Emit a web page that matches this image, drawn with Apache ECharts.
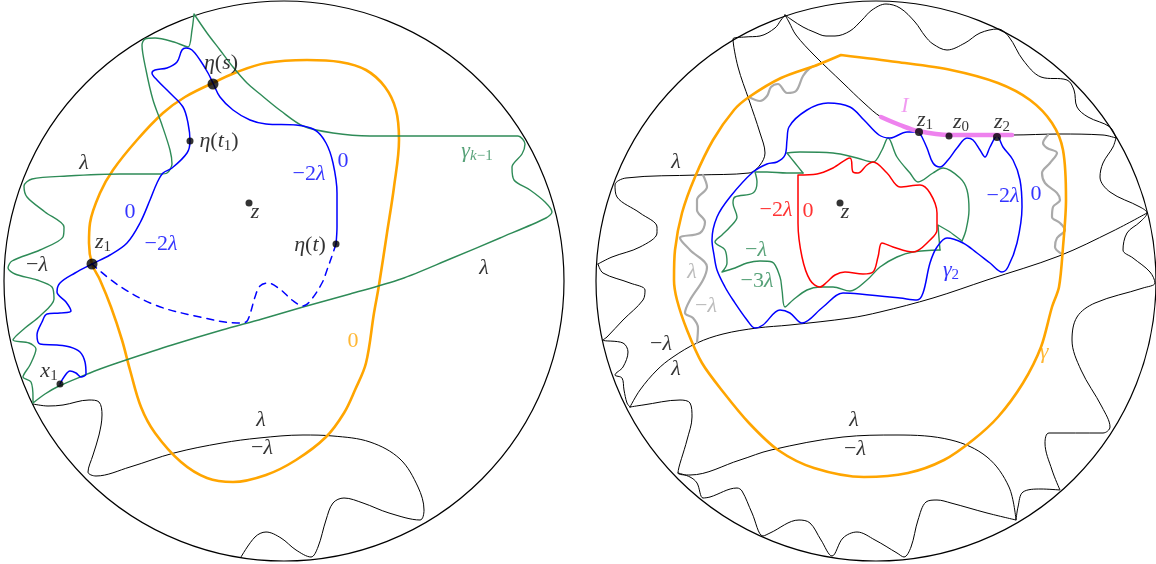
<!DOCTYPE html>
<html><head><meta charset="utf-8">
<script src="https://cdn.jsdelivr.net/npm/echarts@6/dist/echarts.min.js"></script>
<style>html,body{margin:0;padding:0;background:#fff}#c{width:1156px;height:564px}</style>
</head><body><div id="c"></div>
<script>
// ---------- data (pixel-space coordinates) ----------
const circles = [[284,281,280],[876,281,280]];

// left disk
const leftOrange = [[213,83],[237,72],[266,63],[307,60],[340,62],[366,70],[385,87],[396,110],[399,140],[394,187],[387,233],[379,285],[374,313],[366,363],[355,390],[344,413],[326,437],[296,460],[266,475],[233,482],[207,478],[181,462],[155,433],[141,407],[130,370],[122,340],[111,307],[100,280],[92,264],[89,243],[90,223],[100,193],[113,170],[137,140],[163,113],[185,97],[213,83]];
const leftBlue = [[60,384],[64,377],[70,371],[76,373],[81,377],[86,374],[85,362],[80,352],[70,347],[57,345],[40,344],[37,335],[42,322],[47,314],[60,313],[71,311],[66,302],[57,292],[60,283],[75,273],[92,264],[110,255],[127,243],[140,223],[150,200],[157,183],[163,173],[172,168],[187,153],[190,141],[188,123],[183,107],[170,93],[157,80],[152,73],[155,70],[167,68],[177,62],[182,50],[186,48],[192,50],[200,60],[208,73],[213,83],[220,97],[233,110],[250,120],[266,124],[296,125],[315,130],[326,143],[333,163],[337,193],[337,227],[336,244]];
const leftBlueDashed = [[336,244],[333,253],[327,270],[322,283],[311,300],[303,306],[292,300],[281,290],[268,283],[260,286],[255,297],[250,314],[246,322],[237,323],[200,317],[155,305],[118,285],[92,264]];
const leftGreen = [[194,14],[207,33],[220,50],[233,67],[247,83],[260,94],[281,111],[303,126],[333,133],[370,136],[444,136],[500,136],[518,136],[525,144],[522,154],[512,167],[514,180],[530,190],[545,202],[552,212],[546,218],[500,238],[450,259],[401,279],[350,294],[303,307],[262,319],[222,330],[172,345],[126,360],[100,369],[85,375],[59,386],[45,394],[33,403],[33,398],[31,382],[23,377],[30,365],[36,349],[29,343],[13,340],[25,328],[40,316],[54,299],[52,287],[37,280],[15,274],[8,268],[12,261],[40,250],[63,237],[64,227],[45,212],[27,197],[24,186],[32,179],[67,176],[120,174],[160,174],[167,173],[172,164],[170,150],[162,125],[153,100],[146,70],[142,45],[145,39],[155,38],[174,42],[188,47],[192,30],[194,14]];
const leftBlack = [[33,404],[48,406],[63,405],[89,400],[99,402],[102,415],[99,435],[93,455],[88,472],[96,476],[130,467],[174,453],[222,443],[259,438],[303,435],[333,436],[370,442],[400,459],[418,487],[424,510],[420,520],[389,513],[363,503],[344,498],[333,503],[326,520],[318,547],[311,557],[296,550],[281,538],[266,532],[255,537],[241,557]];

// right disk
const rightOrange = [[841,55],[897,62],[951,70],[998,83],[1030,100],[1052,123],[1063,150],[1066,200],[1063,247],[1059,287],[1052,307],[1041,347],[1023,383],[998,417],[973,440],[944,460],[908,473],[864,477],[814,468],[778,450],[749,423],[724,393],[702,363],[687,330],[677,300],[674,280],[675,250],[682,213],[695,177],[713,140],[734,110],[749,97],[781,78],[817,65],[841,55]];
const rightBlackUpperLeft = [[598,264],[612,257],[640,247],[657,233],[657,227],[640,213],[617,197],[615,185],[626,178],[698,175],[749,173],[760,165],[765,153],[760,133],[749,100],[738,67],[733,39],[745,37],[760,36],[775,28],[781,20],[785,15]];
const rightBlackThroughI = [[785,15],[789,22],[796,35],[814,55],[843,83],[864,103],[881,117],[900,125],[918,131],[950,135],[980,135],[1012,135],[1059,134],[1103,135],[1116,138]];
const rightBlackTop = [[785,15],[792,20],[803,27],[814,32],[826,36],[835,36],[850,31],[862,20],[872,10],[886,4],[900,8],[915,22],[925,36],[933,44],[947,50],[965,43],[980,33],[998,29],[1009,37],[1023,60],[1041,77],[1067,80],[1074,90],[1077,107],[1088,117],[1110,127],[1116,138]];
const rightBlackRight = [[1116,138],[1113,147],[1103,163],[1100,177],[1110,192],[1140,207],[1147,213],[1140,222],[1127,233],[1123,250],[1133,258],[1150,272],[1155,283],[1143,288],[1095,303],[1077,317],[1072,340],[1081,370],[1102,407],[1110,427],[1103,433],[1049,433],[1045,443],[1052,470],[1060,490],[1041,489],[1023,492],[1018,507],[1016,520]];
const rightBlackLowerLeft = [[598,264],[603,273],[630,283],[645,290],[643,300],[623,320],[607,337],[603,340],[623,343],[628,352],[623,367],[615,375],[622,378],[624,390],[627,403],[630,407]];
const rightBlackDiagonal = [[630,407],[640,390],[657,370],[673,357],[697,343],[723,334],[757,328],[790,325],[850,318],[880,312],[933,298],[987,280],[1059,256],[1113,231],[1147,213]];
const rightBlackBottom = [[630,407],[643,405],[680,400],[690,403],[692,417],[687,440],[678,473],[690,475],[740,460],[771,450],[843,437],[897,435],[951,440],[987,457],[1009,487],[1016,520],[987,513],[951,503],[937,500],[926,502],[918,520],[911,547],[904,557],[897,553],[875,540],[857,532],[843,538],[832,556],[821,540],[810,523],[799,520],[770,533],[763,536],[752,513],[742,491],[737,488],[710,497],[703,498],[697,483],[690,477],[678,473]];
const rightGrayTop = [[749,97],[760,101],[767,96],[771,87],[778,84],[787,93],[796,91],[803,76],[810,68],[818,65]];
const rightGrayLeft = [[703,175],[707,187],[697,200],[697,210],[705,222],[700,233],[680,238],[690,250],[707,267],[703,280],[690,300],[685,313],[693,318],[698,328],[697,343]];
const rightGrayRight = [[1048,135],[1043,143],[1047,148],[1057,153],[1050,163],[1042,173],[1045,183],[1057,193],[1060,200],[1053,207],[1052,217],[1060,223],[1065,230],[1057,238],[1055,247],[1062,254]];
const rightPink = [[881,117],[900,125],[918,131],[950,135],[980,135],[1012,135]];
const rightBlue = [[919,132],[907,132],[890,138],[879,135],[864,120],[850,107],[828,103],[807,110],[789,127],[787,140],[785,155],[777,162],[767,164],[753,172],[730,197],[717,217],[712,240],[714,255],[717,270],[725,287],[733,300],[747,320],[755,328],[763,325],[780,310],[790,313],[802,323],[823,307],[843,293],[860,294],[900,298],[917,300],[923,293],[930,263],[937,247],[947,238],[963,243],[977,253],[990,263],[1002,272],[1008,267],[1017,243],[1022,207],[1020,180],[1013,160],[1003,147],[997,136],[990,147],[985,157],[980,150],[973,140],[967,138],[957,148],[948,160],[940,167],[933,163],[927,148],[922,137],[919,132]];
const rightGreenUpper = [[787,153],[800,152],[833,153],[857,158],[873,162],[882,150],[888,138],[897,157],[910,173],[918,182],[933,173],[943,168],[960,178],[967,190],[969,210],[966,230],[962,241]];
const rightGreenTriangle = [[962,241],[950,232],[938,225],[939,238],[940,250]];
const rightGreenLower = [[940,250],[913,252],[897,257],[880,267],[867,280],[850,291],[833,287],[820,287],[807,290],[793,300],[785,307],[782,290],[780,277],[772,262],[760,261],[747,263],[735,268],[722,272],[727,263],[725,250],[715,242],[722,235],[730,227],[737,217],[733,203],[735,197],[753,193],[757,182],[755,172],[767,172],[787,173],[803,173]];
const rightGreenLink = [[787,153],[795,163],[803,173]];
const rightRed = [[798,175],[817,174],[833,168],[850,158],[853,172],[858,173],[867,165],[873,162],[887,173],[900,187],[920,185],[930,193],[937,213],[937,230],[930,240],[913,252],[893,247],[882,243],[878,257],[873,272],[863,274],[845,272],[835,275],[827,282],[820,287],[810,280],[802,257],[798,223],[798,190],[798,175]];

// marked points: [x, y, size]
const dots = [[92,264,11],[213,84,11],[190,141,7],[336,244,7],[249,203,7],[60,384,7],[840,203,7],[919,132,8],[949,136,7],[997,137,8]];

// labels: [x, y, rich text, colour]
const labels = [
  [221,63,'{i|η}{r|(}{i|s}{r|)}','#000'],
  [219,141,'{i|η}{r|(}{i|t}{s|1}{r|)}','#000'],
  [255,212,'{i|z}','#000'],
  [310,245,'{i|η}{r|(}{i|t}{r|)}','#000'],
  [103,242,'{i|z}{s|1}','#000'],
  [49,371,'{i|x}{s|1}','#000'],
  [130,212,'{r|0}','#0000ff'],
  [161,244,'{r|−2}{i|λ}','#0000ff'],
  [309,174,'{r|−2}{i|λ}','#0000ff'],
  [343,161,'{r|0}','#0000ff'],
  [477,151,'{i|γ}{si|k}{s|−1}','#2e8b57'],
  [84,163,'{i|λ}','#000'],
  [37,265,'{r|−}{i|λ}','#000'],
  [484,268,'{i|λ}','#000'],
  [353,341,'{r|0}','#ffa500'],
  [261,420,'{i|λ}','#000'],
  [262,448,'{r|−}{i|λ}','#000'],
  [905,106,'{i|I}','#ee82ee'],
  [925,120,'{i|z}{s|1}','#000'],
  [961,122,'{i|z}{s|0}','#000'],
  [1002,122,'{i|z}{s|2}','#000'],
  [845,212,'{i|z}','#000'],
  [776,210,'{r|−2}{i|λ}','#ff0000'],
  [808,211,'{r|0}','#ff0000'],
  [1003,196,'{r|−2}{i|λ}','#0000ff'],
  [1036,194,'{r|0}','#0000ff'],
  [951,270,'{i|γ}{s|2}','#0000ff'],
  [756,250,'{r|−}{i|λ}','#2e8b57'],
  [757,281,'{r|−3}{i|λ}','#2e8b57'],
  [676,162,'{i|λ}','#000'],
  [692,272,'{i|λ}','#aaaaaa'],
  [706,306,'{r|−}{i|λ}','#aaaaaa'],
  [661,344,'{r|−}{i|λ}','#000'],
  [676,369,'{i|λ}','#000'],
  [854,420,'{i|λ}','#000'],
  [855,449,'{r|−}{i|λ}','#000'],
  [1044,352,'{i|γ}','#ffa500']
];

// ---------- chart ----------
const chart = echarts.init(document.getElementById('c'), null, {renderer:'canvas'});
function curve(data, color, width, opts) {
  opts = opts || {};
  return {
    type:'line', data:data, smooth: opts.smooth == null ? 0.35 : opts.smooth,
    showSymbol:false, symbol:'none', silent:true, animation:false, clip:false,
    z: opts.z || 2,
    lineStyle:{color:color, width:width, type: opts.dash ? [7,6] : 'solid', cap:'round', join:'round'}
  };
}
const F = "'Liberation Serif', 'DejaVu Serif', serif";
const rich = {
  r:{fontFamily:F, fontSize:22, fontStyle:'normal', lineHeight:26},
  i:{fontFamily:F, fontSize:22, fontStyle:'italic', lineHeight:26},
  s:{fontFamily:F, fontSize:15, fontStyle:'normal', lineHeight:15, verticalAlign:'bottom'},
  si:{fontFamily:F, fontSize:15, fontStyle:'italic', lineHeight:15, verticalAlign:'bottom'}
};

const BLK='#000', OR='#ffa500', BL='#0000ff', GR='#2e8b57', RD='#ff0000', GY='#aaaaaa', PK='#ee82ee';

const series = [
  {
    type:'custom', data:circles, silent:true, animation:false, z:1,
    renderItem:function(params, api){
      const c = api.coord([api.value(0), api.value(1)]);
      const r = api.size([api.value(2), 0])[0];
      return {type:'circle', shape:{cx:c[0], cy:c[1], r:r}, style:{fill:null, stroke:'#000', lineWidth:1.2}};
    }
  },
  curve(leftBlack, BLK, 1),
  curve(rightBlackUpperLeft, BLK, 1),
  curve(rightBlackThroughI, BLK, 1),
  curve(rightBlackTop, BLK, 1),
  curve(rightBlackRight, BLK, 1),
  curve(rightBlackLowerLeft, BLK, 1),
  curve(rightBlackDiagonal, BLK, 1),
  curve(rightBlackBottom, BLK, 1),
  curve(rightGrayTop, GY, 2.2, {z:3}),
  curve(rightGrayLeft, GY, 2.2, {z:3}),
  curve(rightGrayRight, GY, 2.2, {z:3}),
  curve(leftOrange, OR, 2.6, {z:3}),
  curve(rightOrange, OR, 2.6, {z:3, smooth:0.3}),
  curve(leftGreen, GR, 1.4, {z:4, smooth:0.3}),
  curve(rightGreenUpper, GR, 1.4, {z:4}),
  curve(rightGreenTriangle, GR, 1.4, {z:4, smooth:0.1}),
  curve(rightGreenLower, GR, 1.4, {z:4}),
  curve(rightGreenLink, GR, 1.4, {z:4}),
  curve(leftBlue, BL, 1.5, {z:5}),
  curve(leftBlueDashed, BL, 1.5, {z:5, dash:true}),
  curve(rightBlue, BL, 1.5, {z:5}),
  curve(rightRed, RD, 1.5, {z:5}),
  curve(rightPink, PK, 4.5, {z:6}),
  {
    type:'scatter', silent:true, animation:false, z:8,
    data:dots.map(d => ({value:[d[0],d[1]], symbolSize:d[2]})),
    itemStyle:{color:'#000'}
  },
  {
    type:'scatter', silent:true, animation:false, z:9, symbolSize:0,
    data:labels.map(l => ({value:[l[0],l[1]], label:{formatter:l[2], color:l[3]}})),
    label:{show:true, position:'inside', align:'center', verticalAlign:'middle', fontFamily:F, fontSize:22, rich:rich}
  }
];

chart.setOption({
  animation:false,
  backgroundColor:'#fff',
  grid:{left:0, right:0, top:0, bottom:0},
  xAxis:{type:'value', min:0, max:1156, show:false},
  yAxis:{type:'value', min:0, max:564, inverse:true, show:false},
  series:series
});
</script>
</body></html>
